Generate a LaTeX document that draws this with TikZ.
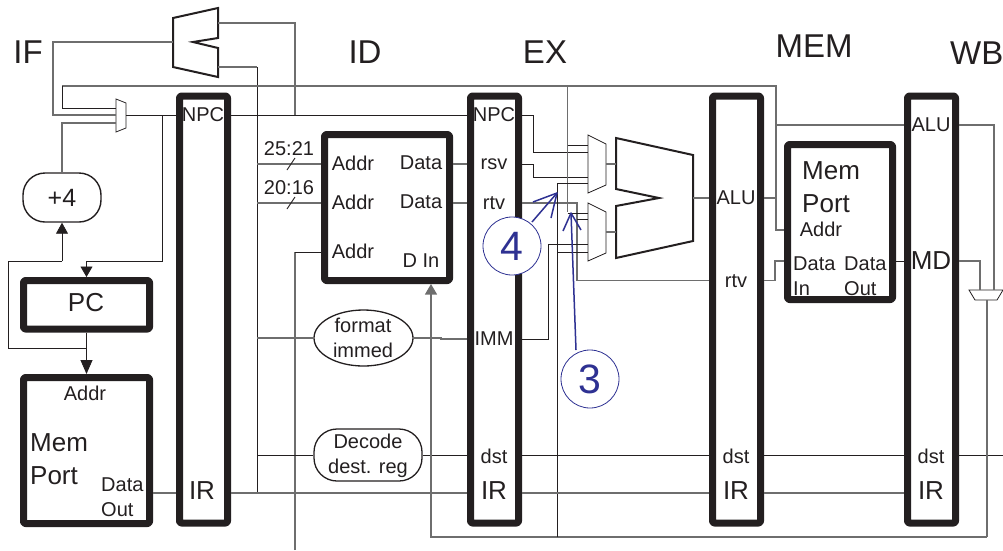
\documentclass[tikz,border=0pt]{standalone}
\usepackage{fontspec}
\setmainfont{Liberation Sans}
\usetikzlibrary{arrows.meta,shapes.geometric}
\definecolor{ink}{HTML}{231F20}
\definecolor{pen}{HTML}{2E3192}
\definecolor{gw}{HTML}{6E6E6E}
\tikzset{
  x=1pt,y=-1pt,
  wire/.style={draw=ink,line width=0.85pt},
  gwire/.style={draw=gw,line width=1.05pt},
  latch/.style={draw=ink,line width=7pt,rounded corners=2pt,inner sep=0pt,minimum width=48pt,minimum height=427pt,line join=round},
  unit/.style={draw=ink,line width=7pt,rounded corners=2pt,inner sep=0pt,line join=round},
  oval/.style={draw=ink,line width=1.3pt,inner sep=0pt},
  alu/.style={draw=ink,line width=2pt,line join=miter},
  mux/.style={draw=ink,line width=0.8pt},
  lab/.style={text=ink,inner sep=0pt,font=\fontsize{20}{25}\selectfont,align=left},
  lbig/.style={text=ink,inner sep=0pt,font=\fontsize{26}{33}\selectfont,align=left},
  lstage/.style={text=ink,inner sep=0pt,font=\fontsize{33}{35}\selectfont},
  lmem/.style={text=ink,inner sep=0pt,font=\fontsize{26}{33}\selectfont,align=left},
  circ/.style={draw=pen,line width=0.8pt,circle,minimum size=58pt,inner sep=0pt,text=pen,font=\fontsize{41}{42}\selectfont},
  penline/.style={draw=pen,line width=1.5pt},
  tipbig/.style={-{Triangle[length=14pt,width=12pt]}},
  tipsmall/.style={-{Triangle[length=10.5pt,width=12pt]}},
}
\begin{document}
\begin{tikzpicture}
\useasboundingbox (0,0) rectangle (1003,550);
% stage labels
\node[lstage] (sIF) at (28,52) {IF};
\node[lstage] (sID) at (365,52) {ID};
\node[lstage] (sEX) at (545,52) {EX};
\node[lstage] (sMEM) at (814,46) {MEM};
\node[lstage,anchor=west] (sWB) at (950,53) {WB};
% latches
\node[latch] (L1) at (203.5,309.5) {};
\node[latch] (L2) at (494.5,309.5) {};
\node[latch] (L3) at (736.5,309.5) {};
\node[latch] (L4) at (931.5,309.5) {};
% units
\node[unit,minimum width=126pt,minimum height=48.5pt] (pc) at (86.5,304.75) {};
\node[unit,minimum width=126pt,minimum height=146pt] (imem) at (86.5,450.5) {};
\node[unit,minimum width=125pt,minimum height=146pt] (rf) at (387,207.5) {};
\node[unit,minimum width=105pt,minimum height=155pt] (dmem) at (840,222) {};
\node[draw=ink,line width=1.4pt,rounded corners=22pt,minimum width=78pt,minimum height=49pt,inner sep=0pt,font=\fontsize{25}{26}\selectfont,text=ink] (plus) at (62,197.5) {+4};
\node[oval,ellipse,minimum width=99pt,minimum height=56pt] (fmt) at (363.5,338) {};
\node[draw=ink,line width=1.3pt,rounded corners=23pt,minimum width=108pt,minimum height=52pt,inner sep=0pt] (dec) at (368,455) {};
% junctions and free ends
\coordinate (jTop) at (62,86);
\coordinate (jMuxIn) at (62,108);
\coordinate (jPCfb) at (62,261);
\coordinate (jNPC) at (162,115);
\coordinate (jPCin) at (86.5,261);
\coordinate (jV2) at (295,115);
\coordinate (ifmuxL) at (116,115);
\coordinate (ifmuxR) at (126,115);
\coordinate (aluTopL) at (173,42);
\coordinate (aluTopA) at (218,23);
\coordinate (aluTopB) at (218,67);
\coordinate (muxAL) at (588,164);
\coordinate (muxAR) at (606,164);
\coordinate (muxBL) at (588,232);
\coordinate (muxBR) at (606,232);
\coordinate (aluInA) at (616,164);
\coordinate (aluInB) at (616,232);
\coordinate (aluOut) at (693,198);
\coordinate (wbTopL) at (980,290);
\coordinate (wbTopR) at (994,290);
\coordinate (wbBot) at (987,300);
\coordinate (endDst) at (1003,455);
\coordinate (endV) at (295,550);
% ALU top
\draw[alu] (173,18)--(218,8)--(218,38)--(193,42)--(218,48)--(218,77)--(173,67)--cycle;
% IF mux
\draw[mux] (116,99)--(126,103)--(126,128)--(116,132)--cycle;
% EX muxes
\draw[mux] (588,135)--(606,144)--(606,185)--(588,193)--cycle;
\draw[mux] (588,203)--(606,212)--(606,253)--(588,261)--cycle;
% EX ALU
\draw[alu] (616,138)--(693,155)--(693,241)--(616,258)--(616,206)--(659,198)--(616,189)--cycle;
% WB mux
\draw[mux] (969,290)--(1003,290)--(997,300)--(975,300)--cycle;
% IF wires
\draw[gwire] (aluTopL)--(53,42)--(53,115)--(ifmuxL);
\draw[gwire] (aluTopA)--(295,23)--(jV2);
\draw[gwire] (aluTopB)--(257,67);
\draw[wire] (257,67)--(257,493);
\draw[gwire] (jTop)--(776,86)--(776,230)--(dmem.west |- 0,230);
\draw[wire] (jTop)--(jMuxIn)--(116,108);
\draw[gwire] (plus.north)--(62,123)--(116,123);
\draw[wire] (ifmuxR)--(L1.west |- 0,115);
\draw[wire] (L1.east |- 0,115)--(L2.west |- 0,115);
\draw[wire,tipsmall] (jNPC)--(162,261)--(jPCin)--(pc.north);
\draw[wire,-{Triangle[length=11pt,width=12pt]}] (jPCfb)--(plus.south);
\draw[wire] (jPCfb)--(8,261)--(8,348)--(86.5,348);
\draw[wire,tipbig] (pc.south)--(imem.north);
\draw[gwire] (imem.east |- 0,493)--(L1.west |- 0,493);
\draw[gwire] (L1.east |- 0,493)--(L2.west |- 0,493);
% ID wires
\draw[gwire] (257,164)--(rf.west |- 0,164);
\draw[gwire] (257,203)--(rf.west |- 0,203);
\draw[wire] (287,170)--(295,158);
\draw[wire] (287,209)--(295,197);
\draw[gwire] (endV)--(295,252);
\draw[wire] (295,252)--(rf.west |- 0,252);
\draw[gwire] (257,338)--(fmt.west);
\draw[wire] (257,455)--(dec.west);
\draw[gwire] (fmt.east)--(441,338)--(441,339)--(L2.west |- 0,339);
\draw[wire] (dec.east)--(L2.west |- 0,455);
\draw[gwire] (rf.east |- 0,164)--(L2.west |- 0,164);
\draw[gwire] (rf.east |- 0,203)--(L2.west |- 0,203);
\draw[gwire,tipsmall] (987,537)--(431,537)--(rf.south -| 431,0);
% EX wires
\draw[wire] (L2.east |- 0,115)--(533,115)--(533,152)--(muxAL |- 0,152);
\draw[wire] (L2.east |- 0,164)--(533,164)--(533,177)--(muxAL |- 0,177);
\draw[gwire] (L2.east |- 0,203)--(577,203)--(577,280.5)--(L3.west |- 0,280.5);
\draw[wire] (577,219)--(muxBL |- 0,219);
\draw[gwire] (567.5,86)--(567.5,212);
\draw[wire] (567.5,145)--(muxAL |- 0,145);
\draw[wire] (567.5,213)--(muxBL |- 0,213);
\draw[wire] (L2.east |- 0,339)--(548,339)--(548,244)--(muxBL |- 0,244);
\draw[wire] (557,537)--(557,183)--(muxAL |- 0,183);
\draw[wire] (557,252)--(muxBL |- 0,252);
\draw[gwire] (muxAR)--(aluInA);
\draw[gwire] (muxBR)--(aluInB);
\draw[gwire] (aluOut)--(L3.west |- aluOut);
\draw[wire] (L2.east |- 0,455)--(L3.west |- 0,455);
\draw[gwire] (L2.east |- 0,493)--(L3.west |- 0,493);
% MEM wires
\draw[gwire] (L3.east |- aluOut)--(776,198);
\draw[gwire] (776,125)--(L4.west |- 0,125);
\draw[gwire] (L3.east |- 0,280.5)--(775,280.5)--(775,261)--(dmem.west |- 0,261);
\draw[wire] (dmem.east |- 0,261)--(L4.west |- 0,261);
\draw[wire] (L3.east |- 0,455)--(L4.west |- 0,455);
\draw[gwire] (L3.east |- 0,493)--(L4.west |- 0,493);
% WB wires
\draw[gwire] (L4.east |- 0,125)--(994,125)--(wbTopR);
\draw[gwire] (L4.east |- 0,261)--(980,261)--(wbTopL);
\draw[wire] (L4.east |- 0,455)--(endDst);
\draw[gwire] (wbBot)--(987,537);
% labels: IF
\node[lab] (tNPC1) at (203,115) {NPC};
\node[lbig] (tIR1) at (202,491) {IR};
\node[lbig] (tPC) at (86,303) {PC};
\node[lab] (tAddr1) at (85,393) {Addr};
\node[lmem,anchor=west] (tMem1) at (30,459) {Mem\\Port};
\node[lab,anchor=west] (tOut1) at (101,497) {Data\\Out};
% labels: ID
\node[lab] (t2521) at (289,149) {25:21};
\node[lab] (t2016) at (289,188) {20:16};
\node[lab] (tA1) at (353,163) {Addr};
\node[lab] (tA2) at (353,202) {Addr};
\node[lab] (tA3) at (353,251) {Addr};
\node[lab] (tD1) at (421,163) {Data};
\node[lab] (tD2) at (421,202) {Data};
\node[lab] (tDIn) at (421,261) {D In};
\node[lab,align=center] (tFmt) at (363,338) {format\\immed};
\node[lab,align=center] (tDec) at (368,456) {Decode\\dest. reg};
% labels: EX latch
\node[lab] (tNPC2) at (494,115) {NPC};
\node[lab] (trsv) at (494,164) {rsv};
\node[lab] (trtv) at (494,203) {rtv};
\node[lab] (tIMM) at (494,339) {IMM};
\node[lab] (tdst2) at (494,456) {dst};
\node[lbig] (tIR2) at (494,491) {IR};
% labels: MEM latch
\node[lab] (tALU3) at (736,198) {ALU};
\node[lab] (trtv3) at (736,281) {rtv};
\node[lab] (tdst3) at (736,456) {dst};
\node[lbig] (tIR3) at (736,491) {IR};
\node[lmem,anchor=west] (tMem2) at (802,187) {Mem\\Port};
\node[lab] (tAddr2) at (821,229) {Addr};
\node[lab,anchor=west] (tIn) at (793,276) {Data\\In};
\node[lab,anchor=west] (tOut2) at (844,276) {Data\\Out};
% labels: WB latch
\node[lab] (tALU4) at (931,125) {ALU};
\node[lbig] (tMD) at (931,261) {MD};
\node[lab] (tdst4) at (931,456) {dst};
\node[lbig] (tIR4) at (931,491) {IR};
% hand-drawn callouts
\node[circ,fill=white] (c4) at (512,246) {4};
\node[circ,fill=white] (c3) at (590,379) {3};
\coordinate (h4) at (557,193);
\coordinate (h3) at (571,213);
\draw[penline] (532,222)--(h4);
\draw[penline,line join=round] (533,202)--(h4)--(551,218);
\draw[penline] (576,350)--(h3);
\draw[penline,line join=round] (563,231)--(h3)--(581,230);
\end{tikzpicture}
\end{document}
